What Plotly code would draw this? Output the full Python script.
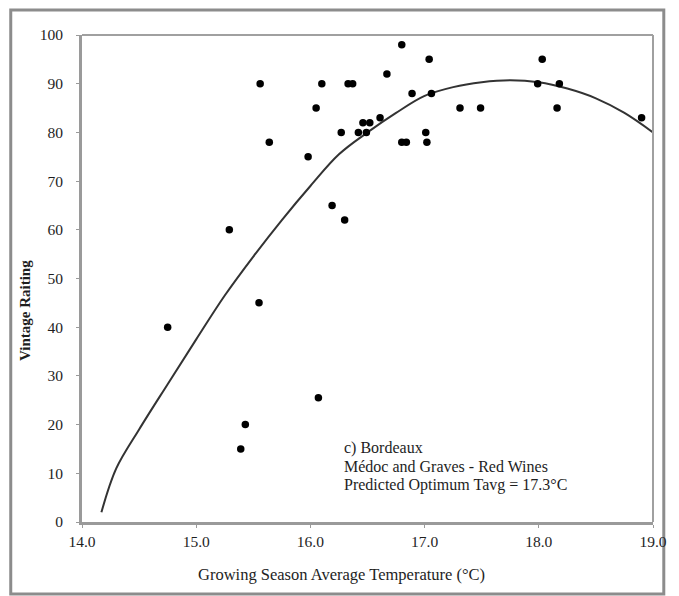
import plotly.graph_objects as go

# Observed vintages: growing season avg temperature (°C) and vintage rating
temp = [16.80, 17.04, 15.56, 16.10, 16.33, 16.37, 16.67, 16.89, 17.06, 16.05,
        15.64, 16.27, 16.42, 16.46, 16.52, 16.49, 16.61, 16.80, 16.84, 17.01,
        17.02, 15.98, 16.19, 16.30, 15.29, 18.03, 17.31, 17.49, 17.99, 18.18,
        18.16, 18.90, 14.75, 15.55, 16.07, 15.43, 15.39]
rating = [98, 95, 90, 90, 90, 90, 92, 88, 88, 85,
          78, 80, 80, 82, 82, 80, 83, 78, 78, 80,
          78, 75, 65, 62, 60, 95, 85, 85, 90, 90,
          85, 83, 40, 45, 25.5, 20, 15]

# Fitted curve
fit_temp = [14.17, 14.3, 14.5, 14.75, 15.0, 15.25, 15.5, 15.75, 16.0, 16.25, 16.5,
            16.75, 17.0, 17.25, 17.5, 17.75, 18.0, 18.25, 18.5, 18.75, 19.0]
fit_rating = [2, 11, 19, 28.3, 37.5, 46.5, 54.5, 62, 69, 75.5, 80,
              84, 87.5, 89.3, 90.3, 90.7, 90.3, 89, 87, 84, 80]

x_ticks = [14, 15, 16, 17, 18, 19]
x_tick_labels = ["14.0", "15.0", "16.0", "17.0", "18.0", "19.0"]
y_ticks = [0, 10, 20, 30, 40, 50, 60, 70, 80, 90, 100]

note_lines = ["c) Bordeaux", "Médoc and Graves - Red Wines",
              "Predicted Optimum Tavg = 17.3°C"]
note_y = [15.1, 11.3, 7.5]

FONT = "Liberation Serif"
TXT = "#1e1e1e"

fig = go.Figure()
fig.add_trace(go.Scatter(x=fit_temp, y=fit_rating, mode="lines",
                         line=dict(color="#333333", width=2, shape="spline"),
                         showlegend=False, hoverinfo="skip"))
fig.add_trace(go.Scatter(x=temp, y=rating, mode="markers",
                         marker=dict(color="black", size=7.5),
                         showlegend=False))

annotations = [
    dict(text="Vintage Raiting", xref="paper", yref="paper",
         x=-0.1, y=0.435, textangle=-90, showarrow=False,
         xanchor="center", yanchor="middle",
         font=dict(family=FONT, size=15, color=TXT, weight="bold")),
    dict(text="Growing Season Average Temperature (°C)", xref="paper", yref="paper",
         x=0.455, y=-0.108, showarrow=False, xanchor="center", yanchor="middle",
         font=dict(family=FONT, size=16.5, color=TXT)),
]
for line, yv in zip(note_lines, note_y):
    annotations.append(dict(text=line, xref="x", yref="y", x=16.28, y=yv,
                            showarrow=False, xanchor="left", yanchor="middle",
                            font=dict(family=FONT, size=16, color=TXT)))

fig.update_layout(
    width=671, height=588,
    margin=dict(l=74, r=16, t=27, b=74),
    paper_bgcolor="white", plot_bgcolor="white",
    font=dict(family=FONT, size=15, color=TXT),
    xaxis=dict(range=[14, 19], tickvals=x_ticks, ticktext=x_tick_labels,
               showgrid=False, zeroline=False, showline=True,
               linecolor="#9a9a9a", linewidth=3, mirror=False,
               ticks="outside", ticklen=3, tickcolor="#9a9a9a",
               tickfont=dict(family=FONT, size=15.5, color=TXT)),
    yaxis=dict(range=[0, 100], tickvals=y_ticks,
               showgrid=False, zeroline=False, showline=True,
               linecolor="#9a9a9a", linewidth=3, mirror=False,
               ticks="outside", ticklen=3, tickcolor="#9a9a9a",
               ticklabelstandoff=10,
               tickfont=dict(family=FONT, size=15.5, color=TXT)),
    shapes=[
        dict(type="line", xref="paper", yref="paper", x0=0, x1=1, y0=1, y1=1,
             line=dict(color="#a0a0a0", width=2)),
        dict(type="line", xref="paper", yref="paper", x0=1, x1=1, y0=0, y1=1,
             line=dict(color="#a0a0a0", width=2)),
        dict(type="rect", xref="paper", yref="paper",
             x0=-0.1248, x1=1.0189, y0=-0.1478, y1=1.0513,
             line=dict(color="#8c8c8c", width=3), layer="below"),
    ],
    annotations=annotations,
)

fig.write_html("out.html")
